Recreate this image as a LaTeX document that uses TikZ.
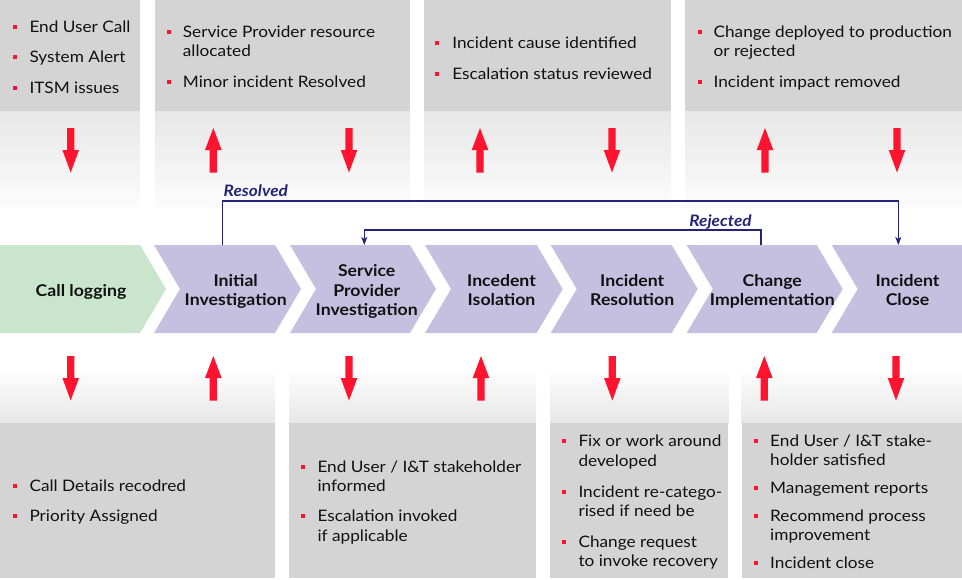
\documentclass[tikz,border=0pt]{standalone}
\usepackage{fontspec}
\setmainfont{Lato}[FakeStretch=1.09]
\usetikzlibrary{arrows.meta}
\definecolor{boxgray}{RGB}{212,212,212}
\definecolor{gradtop}{RGB}{231,231,231}
\definecolor{gradbot}{RGB}{252,252,252}
\definecolor{chgreen}{RGB}{201,229,203}
\definecolor{chpurple}{RGB}{197,192,224}
\definecolor{navy}{RGB}{35,35,120}
\definecolor{redarrow}{RGB}{255,20,48}
\definecolor{textblack}{RGB}{17,17,17}
\newcounter{lnc}
\newcommand\tl[3]{\stepcounter{lnc}\node[txt] (tl\arabic{lnc}) at (#1,#2) {#3};}
\newcommand\itm[4]{\fill[redarrow] (#1-2,#3-7.5) rectangle (#1+2,#3-3.5); \tl{#2}{#3}{#4}}
\newcommand\ct[3]{\stepcounter{lnc}\node[ctxt] (ct\arabic{lnc}) at (#1,#2) {#3};}
\newcommand\arrdown[2]{\fill[redarrow] (#1-3.6,#2) -- (#1+3.6,#2) -- (#1+3.6,#2+22) -- (#1+8.3,#2+22) -- (#1,#2+44.5) -- (#1-8.3,#2+22) -- (#1-3.6,#2+22) -- cycle;}
\newcommand\arrup[2]{\fill[redarrow] (#1,#2) -- (#1+8.3,#2+22) -- (#1+3.6,#2+22) -- (#1+3.6,#2+44.5) -- (#1-3.6,#2+44.5) -- (#1-3.6,#2+22) -- (#1-8.3,#2+22) -- cycle;}
\begin{document}
\begin{tikzpicture}[x=1pt,y=-1pt,
  txt/.style={inner sep=0pt, anchor=base west, font=\fontsize{15.8}{18}\selectfont, text=textblack},
  ctxt/.style={inner sep=0pt, anchor=base, font=\bfseries\fontsize{16.2}{18}\selectfont, text=textblack},
  lbl/.style={inner sep=0pt, anchor=base, font=\bfseries\itshape\fontsize{15.8}{18}\selectfont, text=navy},
  conn/.style={draw=navy, line width=1.2pt, -{Stealth[length=8pt,width=6pt,inset=2pt]}},
]
\useasboundingbox (0,0) rectangle (962,579);
% top boxes
\foreach \a/\b in {0/140, 155/410, 424/671, 685/962} {
  \fill[boxgray] (\a,0) rectangle (\b,111.5);
  \shade[top color=gradtop, bottom color=gradbot] (\a,111.5) rectangle (\b,207);
}
% bottom boxes
\foreach \a/\b in {0/275, 289/536, 550/728.3, 741.7/962} {
  \shade[top color=gradbot, bottom color=gradtop] (\a,373) rectangle (\b,423);
  \fill[boxgray] (\a,423) rectangle (\b,578);
}
% red arrows
\arrdown{70.7}{128} \arrup{213.3}{128} \arrdown{349}{128} \arrup{480}{128}
\arrdown{612}{128} \arrup{765}{128} \arrdown{897}{128}
\arrdown{70.7}{356} \arrup{213.3}{356} \arrdown{349}{356} \arrup{481}{356}
\arrdown{612.3}{356} \arrup{764.3}{356} \arrdown{896}{356}
% chevrons
\fill[chgreen] (0,245) -- (140,245) -- (166,289) -- (140,333) -- (0,333) -- cycle;
\foreach \s/\t in {154/275, 290/410, 425/536.7, 550.7/671.7, 686.7/816.7} {
  \fill[chpurple] (\s,245) -- (\t,245) -- (\t+26,289) -- (\t,333) -- (\s,333) -- (\s+26,289) -- cycle;
}
\fill[chpurple] (831.7,245) -- (962,245) -- (962,333) -- (831.7,333) -- (857.7,289) -- cycle;
% chevron texts
\ct{81}{296.7}{Call logging}
\ct{235.7}{286}{Initial} \ct{235.7}{305.7}{Investigation}
\ct{366.7}{276.7}{Service} \ct{366.7}{296.2}{Provider} \ct{366.7}{315.7}{Investigation}
\ct{501.5}{286}{Incedent} \ct{501.5}{305.7}{Isolation}
\ct{632.2}{286}{Incident} \ct{632.2}{305.7}{Resolution}
\ct{772.3}{286}{Change} \ct{772.3}{305.7}{Implementation}
\ct{907.5}{286}{Incident} \ct{907.5}{305.7}{Close}
% connectors
\coordinate (resFrom) at (222.3,245);
\coordinate (resTo) at (898.3,245);
\coordinate (rejFrom) at (761,245);
\coordinate (rejTo) at (364.3,245);
\draw[conn] (resFrom) -- ++(0,-44) -| (resTo);
\draw[conn] (rejFrom) -- ++(0,-15) -| (rejTo);
\node[lbl] (resLbl) at (255.8,196.7) {Resolved};
\node[lbl] (rejLbl) at (720.5,226.7) {Rejected};
% top texts
\itm{15}{29.3}{32.3}{End User Call}
\itm{15}{29.3}{62.7}{System Alert}
\itm{15}{29.3}{93.3}{ITSM issues}
\itm{169}{182.7}{37.3}{Service Provider resource} \tl{182.7}{56.7}{allocated}
\itm{169}{182.7}{87}{Minor incident Resolved}
\itm{437.3}{452.2}{48}{Incident cause identified}
\itm{437.3}{452.2}{79}{Escalation status reviewed}
\itm{700}{713.4}{37.3}{Change deployed to production} \tl{713.4}{56.7}{or rejected}
\itm{700}{713.4}{87}{Incident impact removed}
% bottom texts
\itm{15}{29.3}{491}{Call Details recodred}
\itm{15}{29.3}{521.7}{Priority Assigned}
\itm{302.7}{317.3}{472.3}{End User / I\&T stakeholder} \tl{317.3}{491.5}{informed}
\itm{302.7}{317.3}{521.7}{Escalation invoked} \tl{317.3}{541}{if applicable}
\itm{564}{578.3}{446.7}{Fix or work around} \tl{578.3}{466}{developed}
\itm{564}{578.3}{497.3}{Incident re-catego-} \tl{578.3}{516.5}{rised if need be}
\itm{564}{578.3}{547.3}{Change request} \tl{578.3}{566.5}{to invoke recovery}
\itm{756}{770}{446}{End User / I\&T stake-} \tl{770}{465.5}{holder satisfied}
\itm{756}{770}{493.3}{Management reports}
\itm{756}{770}{521}{Recommend process} \tl{770}{540.5}{improvement}
\itm{756}{770}{568.3}{Incident close}
\end{tikzpicture}
\end{document}
